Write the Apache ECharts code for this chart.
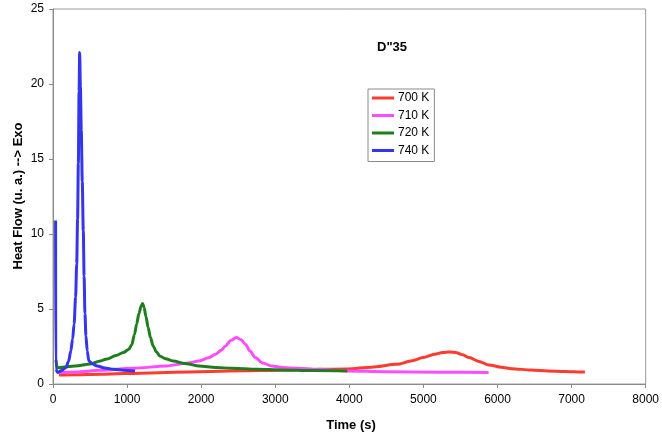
<!DOCTYPE html>
<html>
<head>
<meta charset="utf-8">
<script src="https://cdn.jsdelivr.net/npm/echarts@6/dist/echarts.min.js"></script>
<style>
  html, body { margin: 0; padding: 0; background: #fff; }
  #chart { width: 662px; height: 437px; }
</style>
</head>
<body>
<div id="chart"></div>
<script>
// DSC isothermal traces: [time (s), heat flow (u. a.)]
const seriesNames = ['700 K', '710 K', '720 K', '740 K'];
const seriesColors = ['#ff3a2e', '#ff4cff', '#1e7e1e', '#3535ea'];

const flow700 = [
  [80, 0.6], [300, 0.62], [640, 0.65], [1300, 0.74], [1973, 0.82], [2800, 0.9],
  [3573, 0.98], [3973, 1.0], [4300, 1.12], [4640, 1.31], [4850, 1.55], [4996, 1.76],
  [5150, 1.98], [5260, 2.1], [5351, 2.14], [5450, 2.08], [5530, 1.95], [5618, 1.76],
  [5750, 1.5], [5884, 1.27], [6050, 1.12], [6196, 1.02], [6450, 0.93], [6684, 0.87],
  [6900, 0.83], [7151, 0.8], [7180, 0.8]
];
const flow710 = [
  [90, 0.75], [300, 0.8], [640, 0.91], [1084, 1.05], [1529, 1.2], [1800, 1.38],
  [1973, 1.54], [2100, 1.75], [2196, 1.98], [2270, 2.25], [2329, 2.54], [2400, 2.9],
  [2476, 3.1], [2540, 2.95], [2596, 2.65], [2660, 2.2], [2729, 1.76], [2830, 1.4],
  [2951, 1.2], [3100, 1.1], [3307, 1.05], [3573, 0.98], [3973, 0.87], [4500, 0.82],
  [5200, 0.79], [5880, 0.76]
];
const flow720 = [
  [40, 1.6], [55, 1.1], [84, 1.09], [300, 1.2], [507, 1.33], [640, 1.54], [729, 1.67],
  [850, 1.9], [951, 2.1], [1020, 2.3], [1062, 2.6], [1100, 3.3], [1129, 3.99],
  [1160, 4.7], [1190, 5.2], [1209, 5.37], [1230, 5.1], [1255, 4.5], [1284, 3.76],
  [1315, 3.1], [1351, 2.54], [1395, 2.15], [1440, 1.87], [1520, 1.68], [1618, 1.54],
  [1800, 1.35], [1973, 1.2], [2200, 1.1], [2418, 1.05], [2750, 0.98], [3084, 0.94],
  [3500, 0.9], [3973, 0.87]
];
const flow740 = [
  [35, 10.9], [37, 1.0], [62, 0.76], [120, 0.9], [173, 1.09], [210, 1.5], [240, 2.2],
  [265, 3.0], [285, 4.0], [305, 5.8], [320, 8.0], [332, 11], [342, 14.7], [352, 19.5],
  [360, 22.1], [370, 19.8], [382, 16.9], [395, 13.5], [409, 10.2], [420, 7.2],
  [431, 4.7], [445, 3.2], [462, 2.2], [484, 1.54], [530, 1.35], [596, 1.2], [700, 1.07],
  [818, 0.98], [950, 0.92], [1107, 0.87]
];
const allFlows = [flow700, flow710, flow720, flow740];

const font = 'Liberation Sans, Arial, sans-serif';
const chart = echarts.init(document.getElementById('chart'), null, { renderer: 'canvas' });

chart.setOption({
  animation: false,
  backgroundColor: '#fff',
  textStyle: { fontFamily: font },
  grid: {
    left: 53, right: 12, top: 9, bottom: 53,
    show: true, borderColor: '#9a9a9a', borderWidth: 1, backgroundColor: 'transparent'
  },
  legend: {
    orient: 'vertical',
    left: 368, top: 89,
    padding: [3, 5, 5, 4],
    borderColor: '#8a8a8a', borderWidth: 1,
    backgroundColor: '#fff',
    itemWidth: 22, itemHeight: 3, itemGap: 5.5,
    icon: 'rect',
    data: seriesNames,
    textStyle: { fontFamily: font, fontSize: 12, color: '#000', lineHeight: 12, padding: [0, 0, 0, -1] }
  },
  xAxis: {
    type: 'value', min: 0, max: 8000, interval: 1000,
    axisLine: { show: true, lineStyle: { color: '#8a8a8a', width: 1 } },
    axisTick: { show: true, inside: false, length: 4, lineStyle: { color: '#8a8a8a' } },
    axisLabel: { fontFamily: font, fontSize: 12, color: '#000', margin: 10, formatter: v => String(v) },
    splitLine: { show: false }
  },
  yAxis: {
    type: 'value', min: 0, max: 25, interval: 5,
    axisLine: { show: true, lineStyle: { color: '#8a8a8a', width: 1 } },
    axisTick: { show: true, inside: false, length: 4, lineStyle: { color: '#8a8a8a' } },
    axisLabel: { fontFamily: font, fontSize: 12, color: '#000', margin: 9, formatter: v => String(v) },
    splitLine: { show: false }
  },
  graphic: [
    {
      type: 'text', x: 392, y: 47,
      style: { text: 'D"35', font: 'bold 13px ' + font, fill: '#000', align: 'center', verticalAlign: 'middle' }
    },
    {
      type: 'text', x: 351, y: 425,
      style: { text: 'Time (s)', font: 'bold 13px ' + font, fill: '#000', align: 'center', verticalAlign: 'middle' }
    },
    {
      type: 'text', x: 18, y: 196, rotation: Math.PI / 2,
      style: { text: 'Heat Flow (u. a.) --> Exo', font: 'bold 13px ' + font, fill: '#000', align: 'center', verticalAlign: 'middle' }
    }
  ],
  series: allFlows.map((flow, i) => ({
    name: seriesNames[i],
    type: 'line',
    data: flow,
    showSymbol: false,
    smooth: 0.3,
    smoothMonotone: 'x',
    color: seriesColors[i],
    lineStyle: { width: 3, color: seriesColors[i] }
  }))
});
</script>
</body>
</html>
